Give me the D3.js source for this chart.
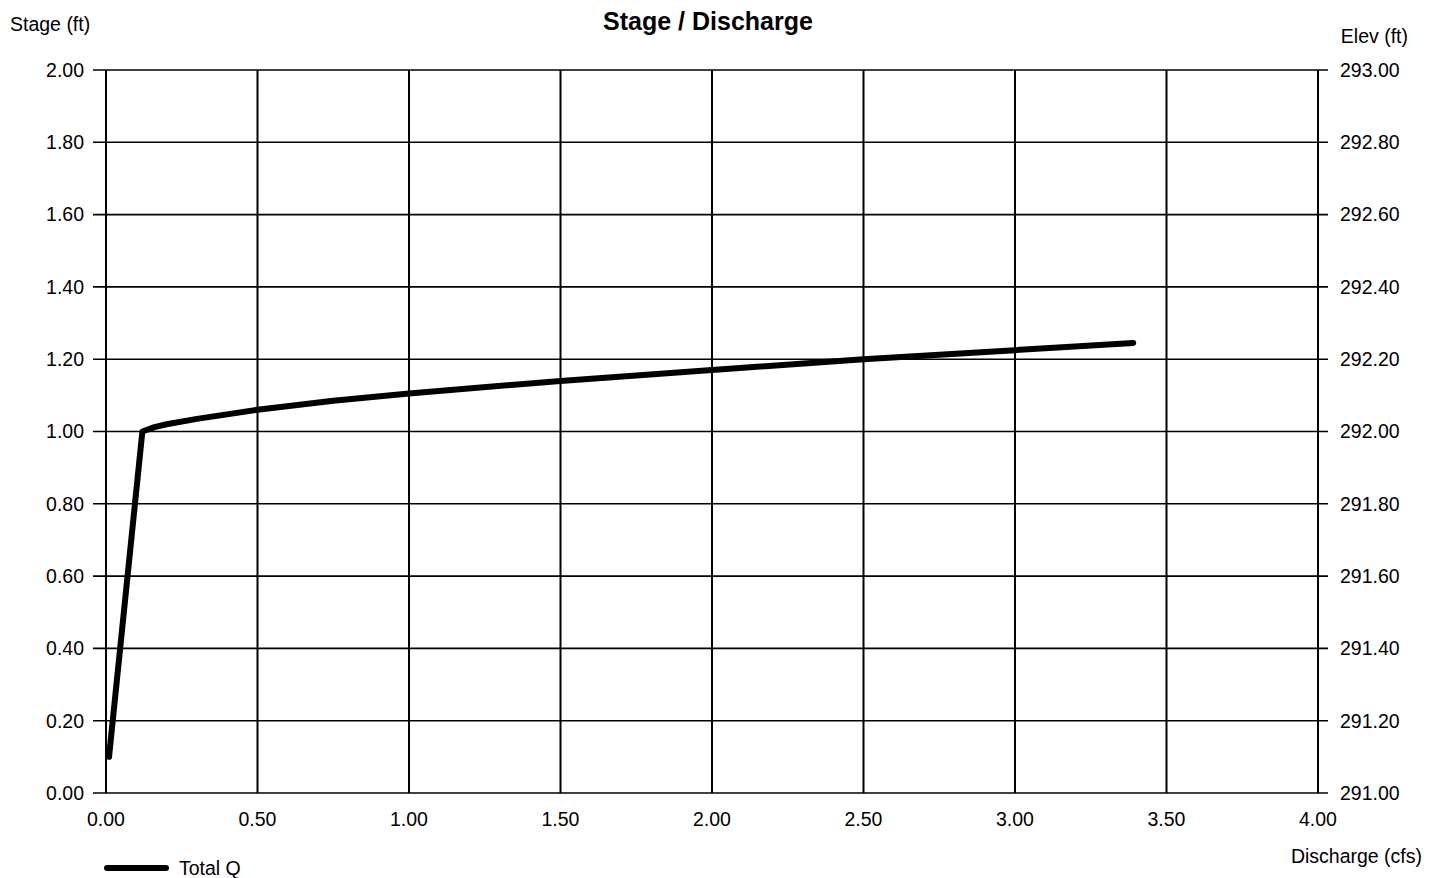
<!DOCTYPE html>
<html><head><meta charset="utf-8">
<script src="https://cdn.jsdelivr.net/npm/d3@7"></script>
<style>
html,body{margin:0;padding:0;background:#fff;}
text{font-family:"Liberation Sans",Arial,sans-serif;fill:#000;}
</style></head>
<body>
<svg id="c" width="1438" height="878"></svg>
<script>
const discharge = [0.01, 0.12, 0.16, 0.20, 0.30, 0.50, 0.75, 1.00, 1.50, 2.00, 2.50, 3.00, 3.39];
const stage     = [0.10, 1.00, 1.012, 1.02, 1.035, 1.06, 1.085, 1.105, 1.14, 1.17, 1.20, 1.225, 1.245];
const xTicks = [0, 0.5, 1.0, 1.5, 2.0, 2.5, 3.0, 3.5, 4.0];
const yTicks = [0, 0.2, 0.4, 0.6, 0.8, 1.0, 1.2, 1.4, 1.6, 1.8, 2.0];
const elevTicks = [291.0, 291.2, 291.4, 291.6, 291.8, 292.0, 292.2, 292.4, 292.6, 292.8, 293.0];

const svg = d3.select("#c");
const L = 106, R = 1318, T = 70, B = 793;
const x = d3.scaleLinear().domain([0, 4]).range([L, R]);
const y = d3.scaleLinear().domain([0, 2]).range([B, T]);
const y2 = d3.scaleLinear().domain([291, 293]).range([B, T]);

// grid
const g = svg.append("g");
g.selectAll("line.h").data(yTicks).join("line")
  .attr("x1", L - 13).attr("x2", R + 10)
  .attr("y1", d => y(d)).attr("y2", d => y(d))
  .attr("stroke", "#000").attr("stroke-width", 1.6);
g.selectAll("line.v").data(xTicks).join("line")
  .attr("x1", d => x(d)).attr("x2", d => x(d))
  .attr("y1", T).attr("y2", B)
  .attr("stroke", "#000").attr("stroke-width", 2);

const FS = 19.5;
// left labels
svg.append("g").selectAll("text").data(yTicks).join("text")
  .attr("x", 84).attr("y", d => y(d)).attr("dy", "0.35em")
  .attr("text-anchor", "end").attr("font-size", FS)
  .text(d => d3.format(".2f")(d));
// right labels
svg.append("g").selectAll("text").data(elevTicks).join("text")
  .attr("x", 1340).attr("y", d => y2(d)).attr("dy", "0.35em")
  .attr("text-anchor", "start").attr("font-size", FS)
  .text(d => d3.format(".2f")(d));
// bottom labels
svg.append("g").selectAll("text").data(xTicks).join("text")
  .attr("x", d => x(d)).attr("y", 819).attr("dy", "0.35em")
  .attr("text-anchor", "middle").attr("font-size", FS)
  .text(d => d3.format(".2f")(d));

// data line
const pts = discharge.map((q, i) => [q, stage[i]]);
svg.append("path").datum(pts)
  .attr("d", d3.line().x(d => x(d[0])).y(d => y(d[1])))
  .attr("fill", "none").attr("stroke", "#000").attr("stroke-width", 6)
  .attr("stroke-linejoin", "round").attr("stroke-linecap", "round");

// titles
svg.append("text").attr("x", 708).attr("y", 21).attr("dy", "0.35em")
  .attr("text-anchor", "middle").attr("font-size", 25).attr("font-weight", "bold")
  .text("Stage / Discharge");
svg.append("text").attr("x", 10).attr("y", 24).attr("dy", "0.35em")
  .attr("font-size", FS).text("Stage (ft)");
svg.append("text").attr("x", 1408).attr("y", 36).attr("dy", "0.35em")
  .attr("text-anchor", "end").attr("font-size", FS).text("Elev (ft)");
svg.append("text").attr("x", 1422).attr("y", 856).attr("dy", "0.35em")
  .attr("text-anchor", "end").attr("font-size", FS).text("Discharge (cfs)");

// legend
svg.append("line").attr("x1", 107).attr("x2", 166).attr("y1", 868).attr("y2", 868)
  .attr("stroke", "#000").attr("stroke-width", 6).attr("stroke-linecap", "round");
svg.append("text").attr("x", 179).attr("y", 868).attr("dy", "0.35em")
  .attr("font-size", FS).text("Total Q");
</script>
</body></html>
